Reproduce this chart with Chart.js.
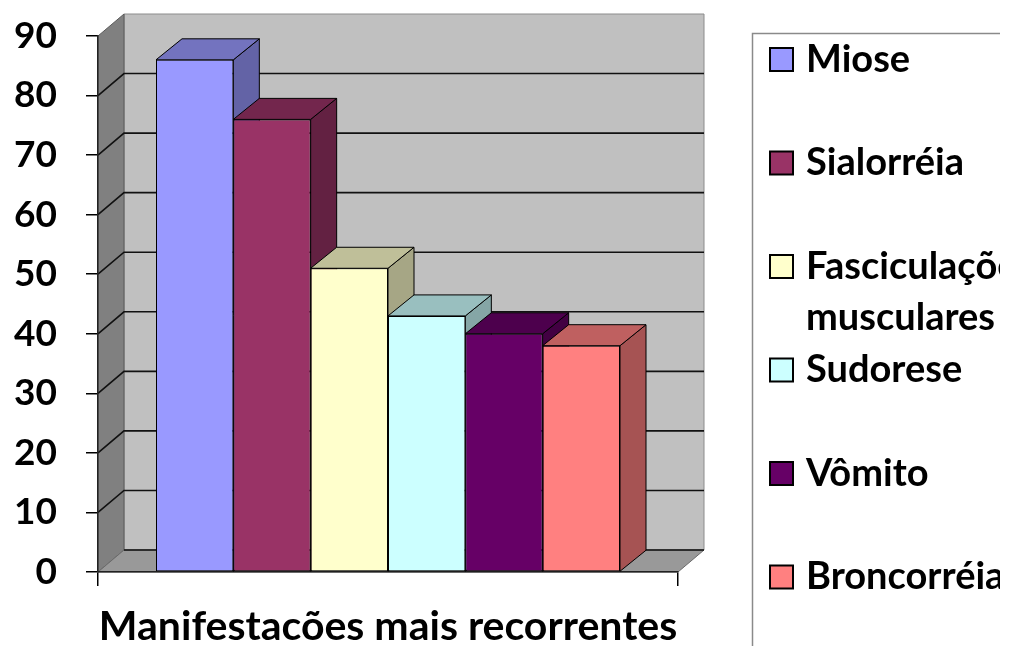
<!DOCTYPE html>
<html lang="pt-BR">
<head>
<meta charset="utf-8">
<title>Manifestações mais recorrentes</title>
<script src="https://cdn.jsdelivr.net/npm/chart.js@4/dist/chart.umd.min.js"></script>
<style>
  html, body { margin: 0; padding: 0; background: #fff; }
  #chart { display: block; }
</style>
</head>
<body>
<canvas id="chart" width="1000" height="646"></canvas>
<script>
'use strict';

// ── Data ─────────────────────────────────────────────────────────
const categories   = ['Manifestacões mais recorrentes'];
const seriesNames  = ['Miose', 'Sialorréia', 'Fasciculações musculares', 'Sudorese', 'Vômito', 'Broncorréia'];
const seriesValues = [86, 76, 51, 43, 40, 38];
const yMin = 0;
const yMax = 90;
const yStep = 10;

// ── Style ────────────────────────────────────────────────────────
const palette = ['#9999ff', '#993366', '#ffffcc', '#ccffff', '#660066', '#ff8080'];
const FONT = 'Lato, "Open Sans", sans-serif';

// depth of the 3D box (walls) and of the columns
const WALL_DX = 26, WALL_DY = -22;
const BAR_DX  = 26, BAR_DY  = -21;

// ── Helpers ──────────────────────────────────────────────────────
function shade(hex, k) {
  const n = parseInt(hex.slice(1), 16);
  const r = Math.round(((n >> 16) & 255) * k);
  const g = Math.round(((n >> 8) & 255) * k);
  const b = Math.round((n & 255) * k);
  return `rgb(${r},${g},${b})`;
}

function poly(ctx, pts, fill, stroke, lw = 1) {
  ctx.beginPath();
  ctx.moveTo(pts[0][0], pts[0][1]);
  for (let i = 1; i < pts.length; i++) ctx.lineTo(pts[i][0], pts[i][1]);
  ctx.closePath();
  if (fill) { ctx.fillStyle = fill; ctx.fill(); }
  if (stroke) { ctx.strokeStyle = stroke; ctx.lineWidth = lw; ctx.stroke(); }
}

// ── Plugins ──────────────────────────────────────────────────────
// back wall, side wall and floor, with the gridlines on them
const wallsPlugin = {
  id: 'walls',
  beforeDraw(chart) {
    const { ctx, chartArea: a, scales: { y } } = chart;
    const dx = WALL_DX, dy = WALL_DY;
    ctx.save();
    poly(ctx, [[a.left + dx, a.top + dy], [a.right + dx, a.top + dy],
               [a.right + dx, a.bottom + dy], [a.left + dx, a.bottom + dy]], '#c0c0c0', '#8c8c8c');
    poly(ctx, [[a.left, a.top], [a.left + dx, a.top + dy],
               [a.left + dx, a.bottom + dy], [a.left, a.bottom]], '#808080', '#5a5a5a');
    poly(ctx, [[a.left, a.bottom], [a.left + dx, a.bottom + dy],
               [a.right + dx, a.bottom + dy], [a.right, a.bottom]], '#999999', '#6a6a6a');

    ctx.strokeStyle = '#111';
    ctx.lineWidth = 1.6;
    y.ticks.forEach((t) => {
      if (t.value === yMax) return;
      const py = y.getPixelForValue(t.value);
      ctx.beginPath();
      if (t.value === yMin) {
        ctx.moveTo(a.left + dx, py + dy);
      } else {
        ctx.moveTo(a.left, py);
        ctx.lineTo(a.left + dx, py + dy);
      }
      ctx.lineTo(a.right + dx, py + dy);
      ctx.stroke();
    });
    ctx.restore();
  },
};

// top and side faces of each column, drawn left to right under the fronts
const columnsPlugin = {
  id: 'columns3d',
  beforeDatasetsDraw(chart) {
    const { ctx } = chart;
    ctx.save();
    ctx.lineJoin = 'round';
    chart.data.datasets.forEach((ds, i) => {
      const bar = chart.getDatasetMeta(i).data[0];
      const { x, y, base, width } = bar.getProps(['x', 'y', 'base', 'width'], true);
      const l = x - width / 2, r = x + width / 2;
      poly(ctx, [[r, y], [r + BAR_DX, y + BAR_DY], [r + BAR_DX, base + BAR_DY], [r, base]],
           shade(ds.backgroundColor, 0.65), '#000');
      poly(ctx, [[l, y], [l + BAR_DX, y + BAR_DY], [r + BAR_DX, y + BAR_DY], [r, y]],
           shade(ds.backgroundColor, 0.75), '#000');
    });
    ctx.restore();
  },
};

// legend box on the right, runs off the edge of the canvas
const legendPlugin = {
  id: 'sideLegend',
  afterDraw(chart) {
    const { ctx } = chart;
    const left = 752.5, top = 33.5;
    const firstY = 59.5, step = 103.5, lineGap = 51;
    ctx.save();
    ctx.strokeStyle = '#8a8a8a';
    ctx.lineWidth = 1.5;
    ctx.beginPath();
    ctx.moveTo(chart.width, top);
    ctx.lineTo(left, top);
    ctx.lineTo(left, chart.height);
    ctx.stroke();

    ctx.font = `bold 38px ${FONT}`;
    ctx.textBaseline = 'middle';
    chart.data.datasets.forEach((ds, i) => {
      const cy = firstY + i * step;
      ctx.fillStyle = ds.backgroundColor;
      ctx.fillRect(770, cy - 11.5, 23, 23);
      ctx.strokeStyle = '#000';
      ctx.lineWidth = 2;
      ctx.strokeRect(770, cy - 11.5, 23, 23);

      // wrap long names onto a second line
      const words = ds.label.split(' ');
      const lines = [];
      let cur = '';
      words.forEach((w) => {
        const test = cur ? `${cur} ${w}` : w;
        if (cur && ctx.measureText(test).width > 220) { lines.push(cur); cur = w; }
        else cur = test;
      });
      lines.push(cur);

      ctx.fillStyle = '#000';
      lines.forEach((ln, k) => ctx.fillText(ln, 806, cy + k * lineGap));
    });
    ctx.restore();
  },
};

// ── Chart ────────────────────────────────────────────────────────
const datasets = seriesNames.map((name, i) => ({
  label: name,
  data: [seriesValues[i]],
  backgroundColor: palette[i],
  borderColor: '#000',
  borderWidth: 1,
  borderSkipped: false,
  categoryPercentage: 0.8,
  barPercentage: 1.0,
}));

new Chart(document.getElementById('chart'), {
  type: 'bar',
  data: { labels: categories, datasets },
  plugins: [wallsPlugin, columnsPlugin, legendPlugin],
  options: {
    responsive: false,
    animation: false,
    events: [],
    layout: { padding: { top: 36, right: 322, left: 0, bottom: 0 } },
    plugins: { legend: { display: false }, tooltip: { enabled: false } },
    scales: {
      x: {
        afterFit: (s) => { s.height = 74; s.paddingLeft = 0; s.paddingRight = 0; },
        ticks: { display: false },
        grid: { offset: true, drawOnChartArea: false, tickLength: 14, color: '#000', lineWidth: 1.5 },
        border: { display: true, color: '#222', width: 1.5 },
        title: {
          display: true,
          text: categories[0],
          color: '#000',
          font: { family: FONT, size: 41, weight: 'bold', lineHeight: 1 },
          padding: { top: 0, bottom: -1 },
        },
      },
      y: {
        min: yMin,
        max: yMax,
        afterFit: (s) => { s.width = 98; s.paddingTop = 0; s.paddingBottom = 0; },
        ticks: {
          stepSize: yStep,
          color: '#000',
          padding: 29,
          font: { family: FONT, size: 37, weight: 'bold' },
        },
        grid: { drawOnChartArea: false, tickLength: 12, color: '#000', lineWidth: 1.5 },
        border: { display: true, color: '#222', width: 1.5 },
      },
    },
  },
});
</script>
</body>
</html>
